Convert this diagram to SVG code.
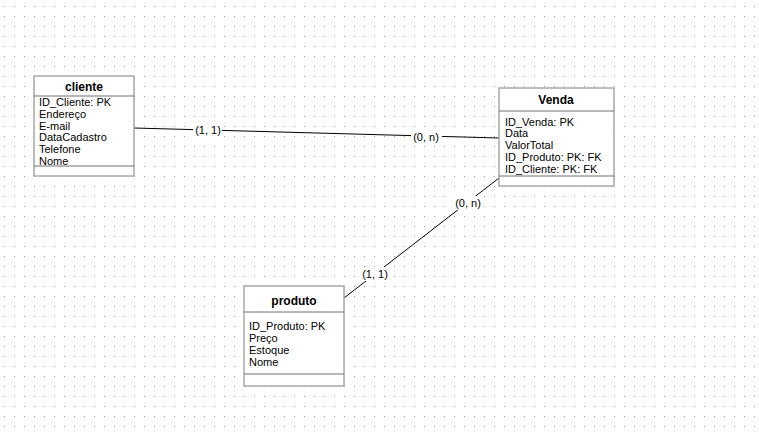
<svg xmlns="http://www.w3.org/2000/svg" width="759" height="433" viewBox="0 0 759 433">
<defs>
<pattern id="grid" x="0" y="0" width="10" height="10" patternUnits="userSpaceOnUse">
<rect x="4" y="6" width="1" height="1" fill="#a0a0a0"/>
</pattern>
<style>
.box{fill:#fff;stroke:#a8a8a8;stroke-width:1.5}
.div{stroke:#707070;stroke-width:1}
.title{font-family:"Liberation Sans",Arial,sans-serif;font-size:12px;font-weight:bold;fill:#000;text-anchor:middle}
.attr{font-family:"Liberation Sans",Arial,sans-serif;font-size:11px;fill:#000}
.edge{stroke:#000;stroke-width:1;fill:none}
.lbl{font-family:"Liberation Sans",Arial,sans-serif;font-size:11px;fill:#000;text-anchor:middle}
.lblbg{fill:#fff}
</style>
</defs>
<rect width="759" height="433" fill="#fff"/>
<rect width="759" height="433" fill="url(#grid)"/>

<g id="connectors">
<line class="edge" x1="134" y1="128" x2="499" y2="138"/>
<rect class="lblbg" x="193" y="123" width="29" height="14"/>
<text class="lbl" x="208" y="134">(1, 1)</text>
<rect class="lblbg" x="411" y="130" width="31" height="14"/>
<text class="lbl" x="426" y="141">(0, n)</text>
<line class="edge" x1="499" y1="178" x2="344" y2="298"/>
<rect class="lblbg" x="453" y="196" width="31" height="14"/>
<text class="lbl" x="468" y="207">(0, n)</text>
<rect class="lblbg" x="361" y="267" width="29" height="14"/>
<text class="lbl" x="375" y="278">(1, 1)</text>
</g>

<g id="cliente">
<rect class="box" x="34" y="76" width="100" height="100"/>
<line class="div" x1="34" y1="96" x2="134" y2="96"/>
<line class="div" x1="34" y1="166" x2="134" y2="166"/>
<text class="title" x="84" y="91">cliente</text>
<text class="attr" x="39" y="106">ID_Cliente: PK</text>
<text class="attr" x="39" y="118">Endereço</text>
<text class="attr" x="39" y="130">E-mail</text>
<text class="attr" x="39" y="141">DataCadastro</text>
<text class="attr" x="39" y="153">Telefone</text>
<text class="attr" x="39" y="165">Nome</text>
</g>

<g id="venda">
<rect class="box" x="499" y="88" width="115" height="98"/>
<line class="div" x1="499" y1="111" x2="614" y2="111"/>
<line class="div" x1="499" y1="176" x2="614" y2="176"/>
<text class="title" x="556" y="104">Venda</text>
<text class="attr" x="505" y="126">ID_Venda: PK</text>
<text class="attr" x="505" y="137">Data</text>
<text class="attr" x="505" y="149">ValorTotal</text>
<text class="attr" x="505" y="161">ID_Produto: PK: FK</text>
<text class="attr" x="505" y="173">ID_Cliente: PK: FK</text>
</g>

<g id="produto">
<rect class="box" x="244" y="286" width="100" height="100"/>
<line class="div" x1="244" y1="312" x2="344" y2="312"/>
<line class="div" x1="244" y1="374" x2="344" y2="374"/>
<text class="title" x="294" y="305">produto</text>
<text class="attr" x="249" y="330">ID_Produto: PK</text>
<text class="attr" x="249" y="342">Preço</text>
<text class="attr" x="249" y="354">Estoque</text>
<text class="attr" x="249" y="366">Nome</text>
</g>
</svg>
